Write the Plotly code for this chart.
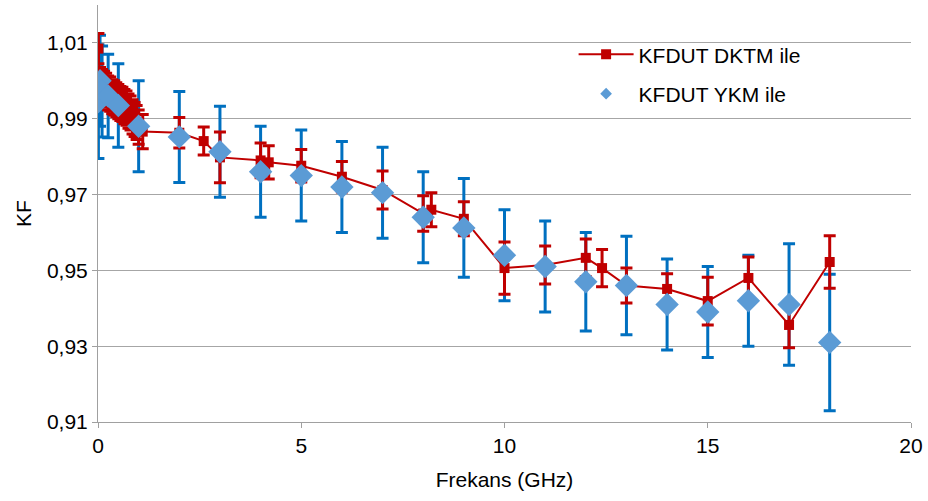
import plotly.graph_objects as go

# DKTM series (red)
red_x = [0.01, 0.05, 0.1, 0.15, 0.2, 0.25, 0.3, 0.35, 0.4, 0.45, 0.5, 0.55, 0.6, 0.65, 0.7, 0.75,
         0.8, 0.85, 0.9, 0.95, 1.0, 1.1, 2, 2.6, 3, 4, 4.2, 5, 6, 7, 8, 8.2, 9, 10, 11, 12, 12.4,
         13, 14, 15, 16, 17, 18]
red_y = [1.0085, 0.9990, 0.9985, 0.9980, 0.9975, 0.9968, 0.9965, 0.9958, 0.9955, 0.9950, 0.9945,
         0.9940, 0.9938, 0.9932, 0.9928, 0.9920, 0.9915, 0.9905, 0.9898, 0.9890, 0.9878, 0.9866,
         0.9863, 0.9841, 0.9798, 0.9790, 0.9785, 0.9776, 0.9747, 0.9712, 0.9650, 0.9660, 0.9636,
         0.9506, 0.9514, 0.9533, 0.9506, 0.9460, 0.9451, 0.9419, 0.9480, 0.9356, 0.9522]
red_err = [0.0040, 0.0045, 0.0045, 0.0045, 0.0045, 0.0045, 0.0045, 0.0045, 0.0045, 0.0045, 0.0045,
           0.0045, 0.0045, 0.0045, 0.0045, 0.0045, 0.0045, 0.0045, 0.0045, 0.0045, 0.0045, 0.0045,
           0.0040, 0.0037, 0.0067, 0.0046, 0.0044, 0.0043, 0.0040, 0.0050, 0.0047, 0.0045, 0.0045,
           0.0069, 0.0050, 0.0050, 0.0049, 0.0046, 0.0040, 0.0063, 0.0055, 0.0060, 0.0069]

# YKM series (blue)
blue_x = [0.01, 0.05, 0.1, 0.25, 0.5, 1, 2, 3, 4, 5, 6, 7, 8, 9, 10, 11, 12, 13, 14, 15, 16, 17, 18]
blue_y = [0.9945, 1.0000, 0.9972, 0.9960, 0.9935, 0.9880, 0.9852, 0.9813, 0.9760, 0.9750, 0.9720,
          0.9705, 0.9640, 0.9612, 0.9540, 0.9510, 0.9470, 0.9460, 0.9410, 0.9390, 0.9420, 0.9410,
          0.9310]
blue_err = [0.0150, 0.0120, 0.0120, 0.0110, 0.0110, 0.0120, 0.0120, 0.0120, 0.0120, 0.0120, 0.0120,
            0.0120, 0.0120, 0.0130, 0.0120, 0.0120, 0.0130, 0.0130, 0.0120, 0.0120, 0.0120, 0.0160,
            0.0180]

red_name = "KFDUT DKTM ile"
blue_name = "KFDUT YKM ile"
x_title = "Frekans (GHz)"
y_title = "KF"

RED = "#C00000"
BLUE_M = "#5B9BD5"
BLUE_E = "#0070C0"

fig = go.Figure()

# blue error bars (drawn beneath red)
fig.add_trace(go.Scatter(
    x=blue_x, y=blue_y, mode="markers",
    marker=dict(size=1, color="rgba(0,0,0,0)"),
    error_y=dict(type="data", array=blue_err, visible=True, color=BLUE_E, thickness=3, width=6),
    showlegend=False, hoverinfo="skip"))

fig.add_trace(go.Scatter(
    x=red_x, y=red_y, mode="lines+markers", name=red_name,
    line=dict(color=RED, width=2),
    marker=dict(symbol="square", size=10, color=RED),
    error_y=dict(type="data", array=red_err, visible=True, color=RED, thickness=3, width=6),
    showlegend=False))

fig.add_trace(go.Scatter(
    x=blue_x, y=blue_y, mode="markers", name=blue_name,
    marker=dict(symbol="diamond", size=18, color=BLUE_M),
    showlegend=False))

# legend entries
fig.add_trace(go.Scatter(
    x=[None], y=[None], mode="lines+markers", name=red_name,
    line=dict(color=RED, width=2), marker=dict(symbol="square", size=10, color=RED),
    legendgroup="a"))
fig.add_trace(go.Scatter(
    x=[None], y=[None], mode="markers", name=blue_name,
    marker=dict(symbol="diamond", size=9, color=BLUE_M),
    legendgroup="b"))

axis_font = dict(family="Liberation Sans, Arial, sans-serif", size=21, color="#000000")

fig.update_layout(
    width=928, height=501,
    margin=dict(l=98, r=17, t=5, b=79, autoexpand=False),
    paper_bgcolor="white", plot_bgcolor="white",
    separators=", ",
    font=axis_font,
    showlegend=True,
    legend=dict(x=0.585, y=0.93, xanchor="left", yanchor="top",
                bgcolor="rgba(255,255,255,0)", font=axis_font,
                itemwidth=55, tracegroupgap=9,
                traceorder="grouped"),
    xaxis=dict(range=[0, 20], tickvals=[0, 5, 10, 15, 20], showgrid=False,
               showline=True, linecolor="#a0a0a0", linewidth=1,
               ticks="outside", ticklen=5, tickcolor="#a0a0a0",
               zeroline=False, tickfont=axis_font, automargin=False,
               title=dict(text=x_title, font=axis_font, standoff=16)),
    yaxis=dict(range=[0.91, 1.02], tick0=0.91, dtick=0.02, tickformat=".2f",
               showgrid=True, gridcolor="#a6a6a6", gridwidth=1,
               showline=True, linecolor="#a0a0a0", linewidth=1,
               ticks="outside", ticklen=5, tickcolor="#a0a0a0",
               zeroline=False, tickfont=axis_font, automargin=False,
               title=dict(text=y_title, font=axis_font, standoff=9)),
)

fig.write_html("out.html",
               config={"displayModeBar": False},
               post_script="document.body.style.margin='0';document.body.style.overflow='hidden';")
